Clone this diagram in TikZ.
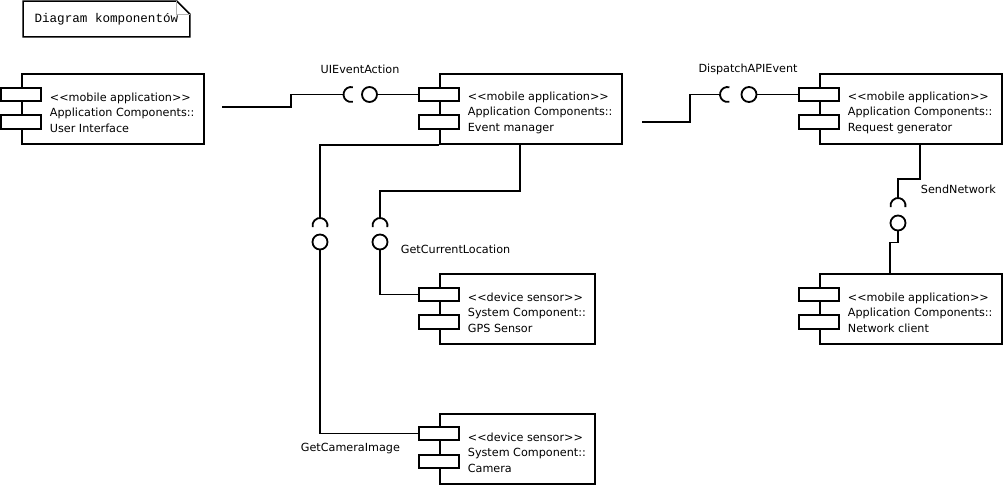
\documentclass[tikz,border=0pt]{standalone}
\usepackage{fontspec}
\setmainfont{DejaVu Sans}
\setmonofont{Liberation Mono}
\usetikzlibrary{positioning}

\begin{document}
\begin{tikzpicture}[
  x=1pt, y=-1pt,
  line width=1.8pt,
  appbody/.style  = {rectangle, draw, minimum width=182pt, minimum height=70pt,
                     anchor=north west, inner sep=0pt},
  sensbody/.style = {appbody, minimum width=155pt},
  tab/.style      = {rectangle, draw, fill=white, minimum width=40pt,
                     minimum height=13.5pt, inner sep=0pt},
  desc/.style     = {anchor=west, align=left, inner sep=0pt,
                     font=\fontsize{11.2}{15.5}\selectfont},
  ball/.style     = {circle, draw, fill=white, minimum size=15pt, inner sep=0pt},
  lbl/.style      = {inner sep=0pt, font=\fontsize{11.2}{13}\selectfont},
  notebox/.style  = {anchor=north west, minimum width=165pt, minimum height=34pt,
                     inner sep=0pt, font=\ttfamily\fontsize{12.6}{14}\selectfont},
]
\useasboundingbox (0,0) rectangle (1003,485);
% note
\node[notebox] (note) at (23,1) {Diagram komponentów};
\draw[line width=1.5pt] (note.north west) -- ([xshift=-13pt]note.north east)
      -- ([yshift=-13pt]note.north east) -- (note.south east)
      -- (note.south west) -- cycle;
\draw[gray!60, line width=0.8pt] ([xshift=-13pt]note.north east) -- ++(0,13) -- ++(13,0);
% components
\node[appbody]  (ui)  at (21,73)   {};
\node[appbody]  (em)  at (439,73)  {};
\node[appbody]  (rg)  at (819,73)  {};
\node[sensbody] (gps) at (439,273) {};
\node[sensbody] (cam) at (439,413) {};
\node[appbody]  (nc)  at (819,273) {};
\node[tab] (uitab1)  at (21,94.5)   {};
\node[tab] (uitab2)  at (21,122)    {};
\node[tab] (emtab1)  at (439,94.5)  {};
\node[tab] (emtab2)  at (439,122)   {};
\node[tab] (rgtab1)  at (819,94.5)  {};
\node[tab] (rgtab2)  at (819,122)   {};
\node[tab] (gpstab1) at (439,294.5) {};
\node[tab] (gpstab2) at (439,322)   {};
\node[tab] (camtab1) at (439,433.5) {};
\node[tab] (camtab2) at (439,461.5) {};
\node[tab] (nctab1)  at (819,294.5) {};
\node[tab] (nctab2)  at (819,322)   {};
\node[desc] (uitxt)  at (49,112.5)  {<{}<mobile application>{}>\\Application Components::\\User Interface};
\node[desc] (emtxt)  at (467,112.5) {<{}<mobile application>{}>\\Application Components::\\Event manager};
\node[desc] (rgtxt)  at (847,112.5) {<{}<mobile application>{}>\\Application Components::\\Request generator};
\node[desc] (gpstxt) at (467,312.5) {<{}<device sensor>{}>\\System Component::\\GPS Sensor};
\node[desc] (camtxt) at (467,452.5) {<{}<device sensor>{}>\\System Component::\\Camera};
\node[desc] (nctxt)  at (847,312.5) {<{}<mobile application>{}>\\Application Components::\\Network client};
% interfaces
\coordinate (uiout)  at (222,107);
\coordinate (rgout)  at (642,122);
\coordinate (uisock)  at (351,94.5);
\coordinate (rgsock)  at (727.5,94.5);
\coordinate (camsock) at (320,225.5);
\coordinate (gpssock) at (380,225.5);
\coordinate (ncsock)  at (898,205.5);
\node[ball] (uiball)  at (369.5,94.5) {};
\node[ball] (rgball)  at (749,94.5)   {};
\node[ball] (camball) at (320,242)    {};
\node[ball] (gpsball) at (380,242)    {};
\node[ball] (ncball)  at (898,223)    {};
\foreach \s in {uisock, rgsock}
  \draw ([shift={(75:7.5pt)}]\s) arc[start angle=75, end angle=285, radius=7.5pt];
\foreach \s in {camsock, gpssock, ncsock}
  \draw ([shift={(-12:7.5pt)}]\s) arc[start angle=-12, end angle=192, radius=7.5pt];
% labels
\node[lbl] (uilbl)  at (360,69) {UIEventAction};
\node[lbl] (rglbl)  at (748,69) {DispatchAPIEvent};
\node[lbl, anchor=west] (gpslbl) at (400,249) {GetCurrentLocation};
\node[lbl, anchor=west] (camlbl) at (300,448) {GetCameraImage};
\node[lbl, anchor=west] (nclbl)  at (920,189) {SendNetwork};
% connectors
\draw (uiout) -- ++(69,0) |- ([xshift=-7.5pt]uisock);
\draw (uiball.east) -- (emtab1.west);
\draw (rgout) -- ++(48,0) |- ([xshift=-7.5pt]rgsock);
\draw (rgball.east) -- (rgtab1.west);
\draw (em.south west) -| ([yshift=7.5pt]camsock);
\draw (camball.south) |- (camtab1.west);
\draw ([xshift=81pt]em.south west) -- ++(0,46) -| ([yshift=7.5pt]gpssock);
\draw (gpsball.south) |- (gpstab1.west);
\draw ([xshift=101pt]rg.south west) -- ++(0,34) -| ([yshift=7.5pt]ncsock);
\draw (ncball.south) -- ++(0,11) -| ([xshift=71pt]nc.north west);
\end{tikzpicture}
\end{document}
